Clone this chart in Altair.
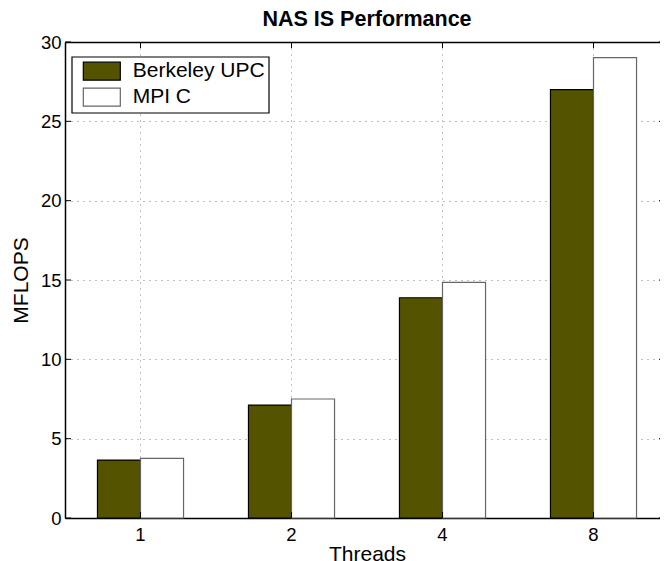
import altair as alt
import pandas as pd

# ---- data ----
threads = ["1", "2", "4", "8"]
series = ["Berkeley UPC", "MPI C"]
upc_values = [3.65, 7.12, 13.88, 27.0]
mpi_values = [3.76, 7.50, 14.85, 29.02]
y_ticks = [0, 5, 10, 15, 20, 25, 30]

rows = []
for t, u, m in zip(threads, upc_values, mpi_values):
    rows.append({"Threads": t, "Series": series[0], "MFLOPS": u})
    rows.append({"Threads": t, "Series": series[1], "MFLOPS": m})
bars_df = pd.DataFrame(rows)
ytick_df = pd.DataFrame({"MFLOPS": y_ticks})
xtick_df = pd.DataFrame({"Threads": threads})

W, H = 604, 476
FONT = "Liberation Sans"
OLIVE = "#545400"

x_scale = alt.Scale(domain=threads, paddingInner=0.43, paddingOuter=0.215)
y_scale = alt.Scale(domain=[0, 30], nice=False, zero=True)

x_axis = alt.Axis(
    title="Threads", labelAngle=0, labelFontSize=18.5, labelPadding=7,
    ticks=False, titleFontSize=21, titleFontWeight="normal", titlePadding=0,
    bandPosition=0.5, grid=True, gridColor="#808080", gridDash=[1, 5],
    domainColor="black", domainWidth=1.5, labelColor="black", titleColor="black",
)
y_axis = alt.Axis(
    title="MFLOPS", values=y_ticks, labelFontSize=18.5, labelPadding=4,
    ticks=False, titleFontSize=21, titleFontWeight="normal", titlePadding=9,
    grid=True, gridColor="#808080", gridDash=[1, 5],
    domainColor="black", domainWidth=1.5, labelColor="black", titleColor="black",
)

legend = alt.Legend(
    title=None, orient="none", legendX=6.7, legendY=14.7,
    fillColor="white", strokeColor="black", padding=4, rowPadding=3,
    labelFontSize=21, labelColor="black", labelOffset=36,
    labelExpr="datum.label + '\u2002\u2002'",
    symbolType="M-0.32,-1H3.79V1H-0.32Z", symbolSize=324, symbolStrokeWidth=1.2,
)

bars = alt.Chart(bars_df).mark_bar(strokeWidth=1.2, opacity=1).encode(
    x=alt.X("Threads:N", sort=threads, scale=x_scale, axis=x_axis),
    xOffset=alt.XOffset("Series:N", sort=series),
    y=alt.Y("MFLOPS:Q", scale=y_scale, axis=y_axis),
    fill=alt.Fill("Series:N", sort=series,
                  scale=alt.Scale(domain=series, range=[OLIVE, "white"]),
                  legend=legend),
    stroke=alt.Stroke("Series:N", sort=series,
                      scale=alt.Scale(domain=series, range=["black", "#666666"]),
                      legend=legend),
)

# inward-pointing tick marks on all four sides (MATLAB style box)
left_ticks = alt.Chart(ytick_df).mark_rule(color="black", strokeWidth=1).encode(
    y=alt.Y("MFLOPS:Q", scale=y_scale), x=alt.value(0), x2=alt.value(6))
right_ticks = alt.Chart(ytick_df).mark_rule(color="black", strokeWidth=1).encode(
    y=alt.Y("MFLOPS:Q", scale=y_scale), x=alt.value(W - 10), x2=alt.value(W))
bottom_ticks = alt.Chart(xtick_df).mark_rule(color="black", strokeWidth=1).encode(
    x=alt.X("Threads:N", sort=threads, scale=x_scale, axis=None),
    y=alt.value(H - 6), y2=alt.value(H))
top_ticks = alt.Chart(xtick_df).mark_rule(color="black", strokeWidth=1).encode(
    x=alt.X("Threads:N", sort=threads, scale=x_scale,
            axis=alt.Axis(orient="top", labels=False, ticks=False, title=None,
                          grid=False, domain=True, domainColor="black",
                          domainWidth=1.5)),
    y=alt.value(0), y2=alt.value(6))

chart = alt.layer(bars, left_ticks, right_ticks, bottom_ticks, top_ticks).resolve_axis(
    x="independent"
).properties(
    width=W, height=H,
    title=alt.TitleParams("NAS IS Performance", fontSize=21.5, fontWeight="bold",
                          anchor="middle", offset=3, color="black", font=FONT),
    autosize=alt.AutoSizeParams(type="none"),
    padding={"left": 57, "top": 34, "right": -9, "bottom": 43},
).configure(
    font=FONT,
).configure_view(
    stroke=None,
).configure_axis(
    labelFont=FONT, titleFont=FONT,
).configure_legend(
    labelFont=FONT, strokeWidth=1.2,
)

chart.save("out.html", embed_options={"renderer": "svg", "actions": False})
